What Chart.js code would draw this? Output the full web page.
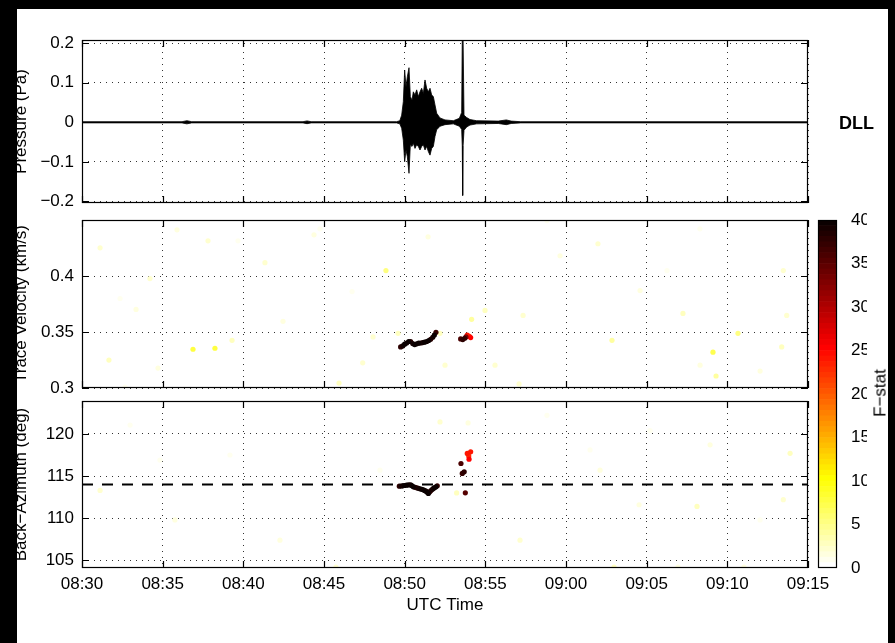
<!DOCTYPE html>
<html>
<head>
<meta charset="utf-8">
<script src="https://cdn.jsdelivr.net/npm/chart.js@4/dist/chart.umd.min.js"></script>
<style>
html,body{margin:0;padding:0;background:#000;}
#wrap{position:relative;width:895px;height:643px;background:#000;overflow:hidden;}
#white{position:absolute;left:17px;top:9px;width:871px;height:634px;background:#fff;}
canvas{position:absolute;left:0;top:0;}
.blk{position:absolute;background:#000;}
.lbl{position:absolute;font-family:"Liberation Sans",Arial,Helvetica,sans-serif;color:#000;white-space:nowrap;line-height:1;}
</style>
</head>
<body>
<div id="wrap">
<div id="white"></div>
<canvas id="c1" width="895" height="643"></canvas>
<canvas id="c2" width="895" height="643"></canvas>
<canvas id="c3" width="895" height="643"></canvas>
<canvas id="c4" width="895" height="643"></canvas>
<div class="lbl" style="left:839px;top:114px;font-size:18px;font-weight:bold;">DLL</div>
<div class="lbl" style="left:880px;top:393px;font-size:17px;transform:translate(-50%,-50%) rotate(-90deg);">F−stat</div>
<div class="blk" style="left:0;top:0;width:17px;height:643px"></div>
<div class="blk" style="left:0;top:0;width:895px;height:9px"></div>
<div class="blk" style="left:888px;top:0;width:7px;height:643px"></div>
</div>
<script>
// ---------- axes / ticks ----------
const xTickValues = [0, 5, 10, 15, 20, 25, 30, 35, 40, 45]; // minutes after 08:30 UTC
const xTickLabels = ['08:30','08:35','08:40','08:45','08:50','08:55','09:00','09:05','09:10','09:15'];
const presTicks = [-0.2, -0.1, 0, 0.1, 0.2];
const presTickLabels = ['−0.2', '−0.1', '0', '0.1', '0.2'];
const velTicks = [0.3, 0.35, 0.4];
const velTickLabels = ['0.3', '0.35', '0.4'];
const bazTicks = [105, 110, 115, 120];
const bazTickLabels = ['105', '110', '115', '120'];
const fTicks = [0, 5, 10, 15, 20, 25, 30, 35, 40];

// ---------- pressure waveform envelope (Pa) ----------
const presTime = [0, 6.2, 6.5, 6.8, 13.7, 13.95, 14.2, 19.5, 19.7, 19.814, 19.917, 20.0, 20.083, 20.165, 20.269, 20.351, 20.455, 20.537, 20.641, 20.744, 20.847, 20.951, 21.054, 21.157, 21.261, 21.364, 21.467, 21.571, 21.674, 21.777, 21.88, 21.984, 22.19, 22.5, 23.017, 23.389, 23.534, 23.57, 23.596, 23.62, 23.678, 23.843, 24.049, 24.463, 25.8, 26.3, 26.6, 27.2, 45];
const presUpper = [0.0015, 0.0015, 0.004, 0.0015, 0.0015, 0.0035, 0.0015, 0.0015, 0.004, 0.018, 0.052, 0.132, 0.09, 0.115, 0.138, 0.065, 0.056, 0.077, 0.069, 0.082, 0.065, 0.077, 0.086, 0.073, 0.107, 0.086, 0.077, 0.086, 0.069, 0.065, 0.044, 0.023, 0.011, 0.006, 0.004, 0.01, 0.025, 0.215, 0.215, 0.215, 0.018, 0.012, 0.007, 0.004, 0.003, 0.006, 0.003, 0.0015, 0.0015];
const presLower = [-0.0015, -0.0015, -0.004, -0.0015, -0.0015, -0.0035, -0.0015, -0.0015, -0.004, -0.015, -0.045, -0.1, -0.07, -0.087, -0.129, -0.057, -0.061, -0.053, -0.066, -0.057, -0.061, -0.07, -0.061, -0.057, -0.07, -0.061, -0.074, -0.083, -0.066, -0.061, -0.036, -0.019, -0.01, -0.006, -0.004, -0.01, -0.018, -0.06, -0.185, -0.06, -0.02, -0.012, -0.007, -0.004, -0.003, -0.006, -0.003, -0.0015, -0.0015];

// ---------- trace velocity (km/s) with F-stat ----------
const velTime = [1.12, 2.67, 1.67, 2.36, 3.35, 4.21, 5.89, 6.88, 8.24, 7.81, 9.30, 9.67, 4.71, 11.34, 12.46, 14.38, 14.75, 15.93, 16.74, 17.40, 18.04, 18.84, 19.59, 21.45, 22.19, 22.50, 24.15, 24.98, 25.60, 27.34, 28.82, 27.09, 29.63, 31.98, 32.85, 34.59, 36.26, 37.25, 38.31, 39.11, 39.30, 40.66, 42.03, 43.47, 43.68, 43.37, 38.30,
  19.75, 19.88, 20.00, 20.12, 20.25, 20.37, 20.50, 20.62, 20.75, 20.87, 21.00, 21.12, 21.24, 21.37, 21.49, 21.61, 21.74, 21.84, 21.94,
  23.47, 23.60, 23.72, 23.80, 23.88, 24.01, 24.09];
const velValue = [0.4252, 0.3009, 0.3249, 0.3799, 0.3702, 0.3977, 0.4412, 0.3346, 0.3355, 0.4314, 0.3426, 0.4314, 0.3178, 0.4119, 0.3595, 0.4368, 0.4421, 0.3044, 0.3861, 0.3225, 0.3456, 0.4048, 0.3488, 0.4350, 0.3488, 0.3204, 0.3613, 0.3693, 0.3204, 0.3648, 0.4495, 0.3036, 0.4181, 0.4288, 0.3426, 0.3870, 0.4048, 0.3666, 0.3204, 0.3320, 0.3107, 0.3488, 0.3151, 0.4048, 0.3648, 0.3367, 0.4421,
  0.3367, 0.3376, 0.3391, 0.3402, 0.3415, 0.3415, 0.3397, 0.3388, 0.3394, 0.3400, 0.3402, 0.3406, 0.3409, 0.3415, 0.3424, 0.3435, 0.3453, 0.3473, 0.3497,
  0.3438, 0.3432, 0.3444, 0.3456, 0.3473, 0.3462, 0.3450];
const velF = [2, 1, 3, 1, 1.5, 2, 1.5, 8, 8, 2, 2.5, 1, 1.5, 2, 1.5, 1.5, 1, 2.5, 1, 2, 2, 5, 2.5, 1.5, 3, 2, 4, 3, 2, 2, 1, 2, 1.5, 2, 4, 1.5, 1, 3, 1.5, 7, 4, 5, 1.5, 2, 2, 2.5, 1,
  38, 39, 40, 39, 40, 38, 39, 40, 39, 40, 38, 39, 40, 39, 40, 38, 39, 40, 37,
  36, 38, 37, 33, 24, 23, 25];

// ---------- back-azimuth (deg) with F-stat ----------
const bazTime = [1.12, 2.98, 5.76, 9.17, 12.27, 15.74, 18.47, 22.19, 23.22, 23.93, 27.15, 28.82, 31.49, 32.11, 32.98, 34.53, 36.94, 38.12, 41.03, 42.03, 43.89, 43.47, 35.21, 4.83, 38.93,
  19.67, 19.78, 19.88, 20.0, 20.12, 20.25, 20.37, 20.46, 20.54, 20.65, 20.75, 20.85, 20.95, 21.06, 21.16, 21.24, 21.32, 21.40, 21.47, 21.54, 21.61, 21.70, 21.78, 21.86, 21.94, 22.02,
  23.49, 23.57, 23.69, 23.76, 23.88, 23.97, 23.99, 24.09];
const bazValue = [113.3, 121.05, 109.8, 117.5, 107.4, 104.2, 115.7, 121.42, 113.0, 121.3, 107.4, 122.2, 118.1, 115.7, 104.2, 111.6, 104.2, 111.4, 104.2, 109.8, 117.7, 112.2, 120.4, 116.9, 118.7,
  113.80, 113.82, 113.84, 113.88, 113.92, 113.95, 113.96, 113.85, 113.72, 113.66, 113.60, 113.55, 113.49, 113.43, 113.37, 113.29, 113.21, 113.08, 112.94, 113.1, 113.25, 113.40, 113.53, 113.63, 113.72, 113.84,
  116.49, 115.31, 115.50, 113.01, 117.68, 117.39, 117.0, 117.87];
const bazF = [2, 1, 1.5, 1, 1.5, 2, 1, 2, 2.5, 1.5, 2, 1, 1, 1.5, 3, 1.5, 1.5, 2.5, 1.5, 1, 2.5, 2, 1, 1, 1.5,
  38, 39, 39, 40, 40, 39, 39, 40, 40, 38, 38, 39, 39, 40, 40, 39, 39, 40, 40, 38, 38, 39, 39, 40, 40, 37,
  36, 37, 38, 35, 24, 23, 25, 24];
const refAzimuth = 114;

// ---------- colormap (reversed MATLAB "hot", 64 levels) ----------
const fMin = 0, fMax = 40, nLevels = 64;
function hotRow(j) { // MATLAB hot(64), row j (0-based)
  const r = j < 24 ? (j + 1) / 24 : 1;
  const g = j < 24 ? 0 : (j < 48 ? (j - 23) / 24 : 1);
  const b = j < 48 ? 0 : (j - 47) / 16;
  return `rgb(${Math.round(r*255)},${Math.round(g*255)},${Math.round(b*255)})`;
}
const cmap = Array.from({length: nLevels}, (_, k) => hotRow(nLevels - 1 - k));
function colorFor(f) {
  const k = Math.max(0, Math.min(nLevels - 1, Math.floor((f - fMin) / (fMax - fMin) * nLevels)));
  return cmap[k];
}

// ---------- common styling ----------
Chart.defaults.font.family = '"Liberation Sans", Arial, Helvetica, sans-serif';
Chart.defaults.font.size = 17;
Chart.defaults.color = '#000';

const gridStyle = {color: 'rgba(0,0,0,0.8)', lineWidth: 1, drawTicks: false};
const borderStyle = {display: false, dash: [1, 5]};

const boxPlugin = {
  id: 'box',
  afterDraw(chart, args, opts) {
    const {ctx, chartArea: a} = chart;
    ctx.save();
    ctx.strokeStyle = '#000';
    ctx.lineWidth = 1.2;
    ctx.strokeRect(a.left + 0.5, a.top + 0.5, a.right - a.left - 1, a.bottom - a.top - 1);
    if (opts && opts.tickLen) {
      const len = opts.tickLen;
      ctx.beginPath();
      const xs = chart.scales.x, ys = chart.scales.y;
      if (xs && xs.type === 'linear') {
        xs.ticks.forEach(t => {
          const px = Math.round(xs.getPixelForValue(t.value)) + 0.5;
          ctx.moveTo(px, a.bottom); ctx.lineTo(px, a.bottom - len);
          ctx.moveTo(px, a.top); ctx.lineTo(px, a.top + len);
        });
      }
      ys.ticks.forEach(t => {
        const py = Math.round(ys.getPixelForValue(t.value)) + 0.5;
        ctx.moveTo(a.left, py); ctx.lineTo(a.left + len, py);
        ctx.moveTo(a.right, py); ctx.lineTo(a.right - len, py);
      });
      ctx.stroke();
    }
    ctx.restore();
  }
};

function xScale(showLabels, h, title) {
  return {
    type: 'linear',
    min: xTickValues[0], max: xTickValues[xTickValues.length - 1],
    afterBuildTicks: s => { s.ticks = xTickValues.map(v => ({value: v})); },
    afterFit: s => { s.height = h; },
    grid: gridStyle, border: borderStyle,
    ticks: {display: showLabels, padding: 6, maxRotation: 0, autoSkip: false, callback: (v, i) => xTickLabels[i]},
    title: title ? {display: true, text: title, padding: {top: 0, bottom: 2}} : {display: false}
  };
}
function yScale(min, max, vals, labels, title) {
  return {
    type: 'linear', min, max,
    afterBuildTicks: s => { s.ticks = vals.map(v => ({value: v})); },
    afterFit: s => { s.width = 71; },
    grid: gridStyle, border: borderStyle,
    ticks: {padding: 8, autoSkip: false, callback: (v, i) => labels[i]},
    title: {display: true, text: title, padding: {top: 0, bottom: 0}}
  };
}
const baseOpts = {responsive: false, animation: false, devicePixelRatio: 1, events: []};

function scatterPoints(ts, vs, fs) {
  return ts.map((t, i) => ({x: t, y: vs[i], f: fs[i]})).sort((a, b) => a.f - b.f);
}

// ---------- panel 1: pressure ----------
new Chart(document.getElementById('c1'), {
  type: 'line',
  data: {
    datasets: [
      {data: presTime.map((t, i) => ({x: t, y: presUpper[i]})), borderColor: '#000', backgroundColor: '#000', borderWidth: 0.8, pointRadius: 0, tension: 0, fill: '+1'},
      {data: presTime.map((t, i) => ({x: t, y: presLower[i]})), borderColor: '#000', backgroundColor: '#000', borderWidth: 0.8, pointRadius: 0, tension: 0, fill: false}
    ]
  },
  options: {
    ...baseOpts,
    layout: {padding: {left: 11, right: 87, top: 40, bottom: 440}},
    plugins: {legend: {display: false}, tooltip: {enabled: false}, box: {tickLen: 7}},
    scales: {x: xScale(false, 0, null), y: yScale(-0.204, 0.208, presTicks, presTickLabels, 'Pressure (Pa)')}
  },
  plugins: [boxPlugin]
});

// ---------- panel 2: trace velocity ----------
new Chart(document.getElementById('c2'), {
  type: 'scatter',
  data: {
    datasets: [{
      data: scatterPoints(velTime, velValue, velF),
      backgroundColor: c => colorFor(c.raw ? c.raw.f : 0),
      borderWidth: 0, pointRadius: 2.6
    }]
  },
  options: {
    ...baseOpts,
    layout: {padding: {left: 11, right: 87, top: 220, bottom: 255}},
    plugins: {legend: {display: false}, tooltip: {enabled: false}, box: {tickLen: 7}},
    scales: {x: xScale(false, 0, null), y: yScale(0.3, 0.45, velTicks, velTickLabels, 'Trace Velocity (km/s)')}
  },
  plugins: [boxPlugin]
});

// ---------- panel 3: back-azimuth ----------
new Chart(document.getElementById('c3'), {
  type: 'scatter',
  data: {
    datasets: [
      {
        data: scatterPoints(bazTime, bazValue, bazF),
        backgroundColor: c => colorFor(c.raw ? c.raw.f : 0),
        borderWidth: 0, pointRadius: 2.6
      },
      {
        type: 'line',
        data: [{x: xTickValues[0], y: refAzimuth}, {x: xTickValues[xTickValues.length - 1], y: refAzimuth}],
        borderColor: '#000', borderWidth: 2.2, borderDash: [11, 9], pointRadius: 0, fill: false
      }
    ]
  },
  options: {
    ...baseOpts,
    layout: {padding: {left: 11, right: 87, top: 401, bottom: 25}},
    plugins: {legend: {display: false}, tooltip: {enabled: false}, box: {tickLen: 7}},
    scales: {x: xScale(true, 50, 'UTC Time'), y: yScale(104.1, 123.9, bazTicks, bazTickLabels, 'Back−Azimuth (deg)')}
  },
  plugins: [boxPlugin]
});

// ---------- colorbar ----------
new Chart(document.getElementById('c4'), {
  type: 'bar',
  data: {
    labels: ['F'],
    datasets: cmap.map((col, k) => ({
      data: [[fMin + k * (fMax - fMin) / nLevels, fMin + (k + 1) * (fMax - fMin) / nLevels]],
      backgroundColor: col, borderWidth: 0, grouped: false,
      barPercentage: 1, categoryPercentage: 1
    }))
  },
  options: {
    ...baseOpts,
    layout: {padding: {left: 818, right: 28, top: 220, bottom: 75}},
    plugins: {legend: {display: false}, tooltip: {enabled: false}, box: {}},
    scales: {
      x: {display: false},
      y: {
        position: 'right', min: fMin, max: fMax,
        afterBuildTicks: s => { s.ticks = fTicks.map(v => ({value: v})); },
        afterFit: s => { s.width = 30; },
        grid: {display: false}, border: {display: false},
        ticks: {padding: 6, autoSkip: false, callback: (v, i) => String(fTicks[i])}
      }
    }
  },
  plugins: [boxPlugin]
});
</script>
</body>
</html>
